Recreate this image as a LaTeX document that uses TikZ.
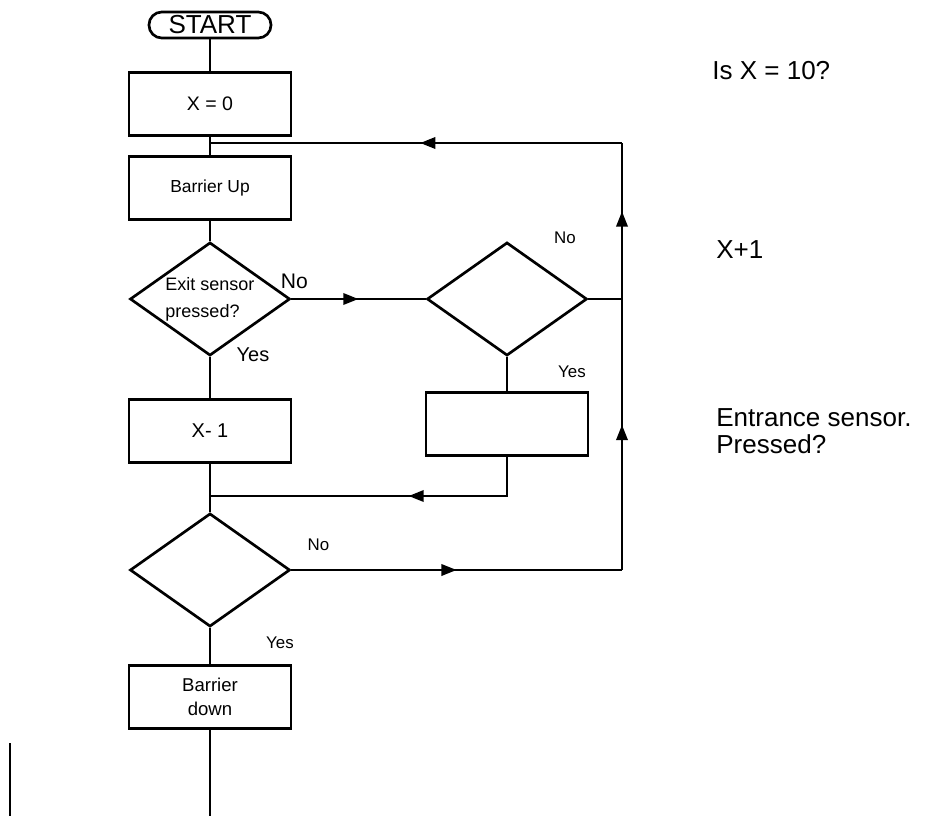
\documentclass[tikz,border=0pt]{standalone}
\usepackage{fontspec}
\setmainfont{Liberation Sans}
\usepackage{tikz}
\usetikzlibrary{shapes,arrows.meta,positioning,calc,decorations.markings}

\begin{document}
\begin{tikzpicture}[x=0.025cm, y=-0.025cm, line width=1.9pt,
        term/.style={rectangle, rounded corners=0.32cm, draw, minimum width=3.05cm, minimum height=0.65cm, inner sep=0pt, font=\fontsize{18.5}{20}\selectfont},
        box/.style={rectangle, draw, minimum width=4.05cm, minimum height=1.56cm, inner sep=0pt, align=center},
        cond/.style={diamond, draw, minimum width=4.0cm, minimum height=2.83cm, aspect=1.42, inner sep=0pt, align=left},
        lbl/.style={inner sep=0pt, font=\fontsize{12}{14}\selectfont},
        note/.style={anchor=west, inner sep=0pt, align=left, font=\fontsize{18.5}{19.5}\selectfont},
        flow/.style={postaction={decorate, decoration={markings, mark=at position #1 with {\arrow{Triangle[length=3.8mm, width=2.8mm]}}}}}]

        \useasboundingbox (0,0) rectangle (928,816);

        % Main column
        \node[term] (start) at (210,25) {START};
        \node[box, font=\fontsize{13.9}{16}\selectfont] (xzero) at (210,104) {X = 0};
        \node[box, font=\fontsize{12.4}{15}\selectfont] (bup) at (210,188) {Barrier Up};
        \node[cond, font=\fontsize{12.8}{19.2}\selectfont] (exitq) at (210,299) {Exit sensor\\pressed?};
        \node[box, font=\fontsize{14.2}{16}\selectfont] (xdown) at (210,431) {X- 1};
        \node[cond] (fullq) at (210,570) {};
        \node[box, font=\fontsize{13.2}{17}\selectfont] (bdown) at (210,697) {Barrier\\down};
        \coordinate (end) at (210,816);

        % Entrance branch
        \node[cond] (entq) at (507,299) {};
        \node[box] (xup) at (507,424) {};

        % Loop corners and joins
        \coordinate (tr) at (622,143);
        \coordinate (br) at (622,570);
        \coordinate (jt) at (210,143);
        \coordinate (jn) at (210,496);

        % Notes
        \node[note] (isfull) at (711,71) {Is X = 10?};
        \node[note] (incr) at (715,250) {X+1};
        \node[note] (entrq) at (715,431) {Entrance sensor.\\Pressed?};

        % Yes / No
        \node[lbl, font=\fontsize{15}{17}\selectfont] (no1) at ($(exitq.east)+(3,-18)$) {No};
        \node[lbl, font=\fontsize{14.2}{16}\selectfont] (yes1) at ($(exitq.south)+(43,-2)$) {Yes};
        \node[lbl] (no2) at ($(entq.north)+(58,-3)$) {No};
        \node[lbl] (yes2) at ($(entq.south)+(65,15)$) {Yes};
        \node[lbl] (no3) at ($(fullq.east)+(27,-25)$) {No};
        \node[lbl] (yes3) at ($(fullq.south)+(70,15)$) {Yes};

        % Connections
        \draw (start) -- (xzero);
        \draw (xzero) -- (bup);
        \draw (bup) -- (exitq);
        \draw (exitq) -- (xdown);
        \draw (xdown) -- (fullq);
        \draw (fullq) -- (bdown);
        \draw (bdown) -- (end);
        \draw[flow=0.5] (exitq.east) -- (entq.west);
        \draw (entq) -- (xup);
        \draw[flow=0.41] (xup.south) |- (jn);
        \draw (entq.east) -- (entq.east -| tr);
        \draw[flow=0.5] (fullq.east) -- (br);
        \draw[flow=0.34, flow=0.84] (br) -- (tr);
        \draw[flow=0.49] (tr) -- (jt);

        % stray mark
        \draw[line width=1pt] (10,743) -- (10,816);

\end{tikzpicture}
\end{document}
